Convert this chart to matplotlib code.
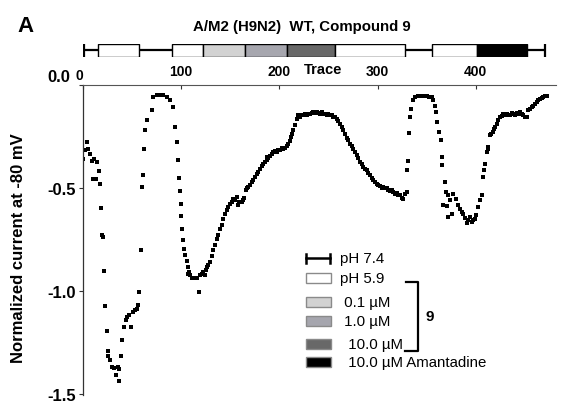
import matplotlib
matplotlib.use("Agg")
import matplotlib.pyplot as plt
from matplotlib.patches import Rectangle
from matplotlib.transforms import ScaledTranslation

plt.rcParams['font.family'] = ['Liberation Sans', 'DejaVu Sans']

# trace number and normalized current
trace = [0.8, 2.5, 4.9, 5.9, 7.6, 10.0, 12.0, 14.4, 17.1, 13.7, 11.0, 17.8, 18.8, 20.1, 21.2, 21.9,
         23.2, 24.6, 26.2, 25.9, 28.0, 29.7, 32.0, 33.8, 36.8, 36.4, 37.1, 38.8, 40.5, 42.2, 43.9, 45.6,
         47.3, 49.3, 51.7, 53.4, 55.1, 56.7, 57.8, 59.2, 60.8, 61.8, 62.5, 63.6, 65.9, 70.4, 72.0, 75.5,
         78.8, 82.2, 85.6, 89.0, 91.7, 94.1, 95.8, 96.8, 98.1, 99.2, 99.9, 100.5, 101.5, 102.5, 103.5,
         104.5, 106.0, 107.0, 107.6, 108.3, 109.3, 111.1, 112.7, 114.4, 116.1, 118.5, 119.5, 121.2,
         122.9, 124.6, 125.3, 126.3, 127.9, 129.7, 131.4, 133.0, 134.8, 136.5, 138.1, 139.8, 141.6,
         143.2, 144.9, 146.6, 148.3, 150.0, 151.7, 153.4, 155.1, 156.8, 158.1, 159.5, 161.9, 163.5,
         164.2, 166.0, 167.3, 168.6, 170.3, 172.1, 173.7, 175.4, 177.2, 178.8, 180.5, 182.2, 183.9,
         185.6, 187.3, 187.3, 189.0, 190.7, 192.4, 194.0, 195.8, 197.5, 199.1, 200.9, 202.6, 204.2,
         205.9, 207.7, 209.3, 210.5, 211.7, 213.1, 214.4, 216.1, 217.8, 219.5, 221.2, 222.9, 224.6,
         226.3, 228.0, 229.6, 231.4, 233.1, 234.7, 236.4, 238.2, 239.8, 241.5, 243.3, 244.9, 246.6,
         248.4, 250.0, 251.7, 253.4, 255.1, 256.8, 258.5, 260.1, 261.9, 263.6, 265.2, 267.0, 268.5,
         270.0, 272.0, 273.8, 275.4, 277.1, 278.9, 280.5, 282.2, 283.9, 285.6, 287.3, 289.0, 290.7,
         292.4, 294.1, 295.7, 297.5, 299.2, 300.8, 302.6, 304.3, 305.9, 307.6, 309.4, 311.0, 312.7,
         314.5, 316.1, 317.8, 319.5, 321.2, 322.9, 324.6, 326.3, 328.0, 329.7, 330.3, 331.3, 332.4,
         333.1, 334.1, 335.8, 338.2, 340.7, 343.2, 345.8, 347.8, 350.1, 352.4, 355.1, 356.8, 358.0,
         359.5, 360.8, 362.9, 364.3, 365.3, 365.9, 368.7, 369.7, 366.9, 370.4, 372.0, 373.7, 372.0,
         375.5, 377.1, 379.9, 382.2, 383.9, 385.6, 387.3, 389.0, 390.7, 392.4, 394.1, 395.8, 397.4,
         399.2, 400.2, 402.5, 404.3, 406.0, 407.6, 408.5, 409.3, 411.1, 411.9, 412.7, 414.4, 415.8,
         417.2, 418.5, 419.5, 421.2, 422.9, 424.6, 426.3, 428.0, 429.7, 431.4, 433.0, 434.8, 436.5,
         438.2, 439.9, 441.6, 443.2, 444.9, 446.7, 448.3, 450.0, 451.8, 453.4, 455.1, 456.8, 458.5,
         460.2, 461.9, 463.6, 465.3, 467.0, 468.6, 470.3, 471.9]
current = [-0.357, -0.317, -0.276, -0.308, -0.333, -0.368, -0.357, -0.373, -0.418, -0.454, -0.454,
           -0.478, -0.595, -0.729, -0.740, -0.905, -1.075, -1.195, -1.289, -1.318, -1.337, -1.371,
           -1.376, -1.409, -1.438, -1.371, -1.381, -1.318, -1.239, -1.177, -1.142, -1.125, -1.117,
           -1.174, -1.101, -1.093, -1.085, -1.069, -1.004, -0.802, -0.494, -0.438, -0.308, -0.219,
           -0.171, -0.122, -0.057, -0.050, -0.050, -0.050, -0.057, -0.074, -0.106, -0.203, -0.276,
           -0.365, -0.450, -0.516, -0.575, -0.635, -0.697, -0.753, -0.794, -0.826, -0.855, -0.883,
           -0.915, -0.907, -0.923, -0.936, -0.939, -0.939, -0.936, -1.004, -0.923, -0.915, -0.907,
           -0.923, -0.899, -0.883, -0.875, -0.857, -0.828, -0.803, -0.778, -0.745, -0.729, -0.701,
           -0.681, -0.648, -0.624, -0.608, -0.590, -0.575, -0.570, -0.554, -0.559, -0.543, -0.583,
           -0.570, -0.567, -0.559, -0.548, -0.511, -0.498, -0.494, -0.483, -0.470, -0.459, -0.446,
           -0.434, -0.421, -0.405, -0.392, -0.381, -0.373, -0.365, -0.349, -0.353, -0.342, -0.333,
           -0.324, -0.321, -0.325, -0.317, -0.317, -0.306, -0.311, -0.305, -0.294, -0.284, -0.269,
           -0.251, -0.235, -0.219, -0.192, -0.163, -0.147, -0.155, -0.143, -0.147, -0.141, -0.146,
           -0.138, -0.138, -0.136, -0.131, -0.136, -0.131, -0.133, -0.138, -0.131, -0.138, -0.138,
           -0.146, -0.141, -0.147, -0.147, -0.153, -0.155, -0.163, -0.175, -0.187, -0.201, -0.219,
           -0.235, -0.255, -0.265, -0.284, -0.296, -0.308, -0.325, -0.341, -0.354, -0.373, -0.383,
           -0.397, -0.405, -0.414, -0.427, -0.438, -0.449, -0.462, -0.471, -0.478, -0.483, -0.489,
           -0.498, -0.493, -0.502, -0.500, -0.510, -0.516, -0.510, -0.519, -0.527, -0.522, -0.534,
           -0.535, -0.546, -0.551, -0.527, -0.518, -0.414, -0.368, -0.232, -0.154, -0.114, -0.074,
           -0.057, -0.053, -0.052, -0.053, -0.054, -0.054, -0.056, -0.057, -0.074, -0.100, -0.130,
           -0.179, -0.227, -0.265, -0.349, -0.389, -0.470, -0.518, -0.583, -0.588, -0.535, -0.559,
           -0.640, -0.627, -0.527, -0.551, -0.583, -0.604, -0.614, -0.624, -0.643, -0.672, -0.656,
           -0.640, -0.663, -0.656, -0.648, -0.632, -0.591, -0.559, -0.535, -0.446, -0.410, -0.381,
           -0.324, -0.308, -0.300, -0.244, -0.235, -0.227, -0.214, -0.203, -0.187, -0.170, -0.154,
           -0.150, -0.142, -0.146, -0.138, -0.147, -0.147, -0.136, -0.138, -0.143, -0.135, -0.141,
           -0.130, -0.138, -0.147, -0.155, -0.154, -0.122, -0.114, -0.106, -0.100, -0.090, -0.083,
           -0.074, -0.068, -0.061, -0.057, -0.054, -0.051]

# application protocol (trace units)
bar_start = [15.8, 91.0, 122.5, 165.2, 207.9, 256.8, 355.4, 401.2]
bar_end = [57.1, 122.5, 165.2, 207.9, 256.8, 327.6, 401.2, 452.0]
bar_colors = ['white', 'white', '#d2d2d2', '#a6a6ae', '#686868', 'white', 'white', 'black']
protocol_span = [1.5, 470.4]

legend_labels = ['pH 5.9', ' 0.1 µM', ' 1.0 µM', '  10.0 µM', '  10.0 µM Amantadine']
legend_colors = ['white', '#d2d2d2', '#a6a6ae', '#686868', 'black']

xticks = [0, 100, 200, 300, 400]
yticks = [0.0, -0.5, -1.0, -1.5]
ytick_labels = ['0.0', '-0.5', '-1.0', '-1.5']

W, H = 561, 406
fig = plt.figure(figsize=(W / 100, H / 100), dpi=100)


def fr(x0, y0, x1, y1):
    # pixel box -> figure fraction rect
    return [x0 / W, 1 - y1 / H, (x1 - x0) / W, (y1 - y0) / H]


xlim = (0, 481.5)

# main scatter
ax = fig.add_axes(fr(82.5, 85.5, 556, 396))
ax.plot(trace, current, 's', color='black', ms=2.4, mew=0)
ax.set_xlim(*xlim)
ax.set_ylim(-1.505, 0.003)
ax.spines['bottom'].set_visible(False)
ax.spines['right'].set_visible(False)
ax.spines['top'].set_color('#555555')
ax.spines['top'].set_linewidth(0.8)
ax.spines['left'].set_color('#333333')
ax.spines['left'].set_linewidth(0.9)
ax.xaxis.tick_top()
ax.set_xticks(xticks)
ax.set_xticklabels([str(t) for t in xticks], fontsize=10, fontweight='bold')
ax.tick_params(axis='x', direction='in', length=3, pad=5, colors='#333333', labelcolor='black')
ax.set_yticks(yticks)
ax.set_yticklabels(ytick_labels, fontsize=12, fontweight='bold')
ax.tick_params(axis='y', direction='out', length=3, pad=2, colors='#333333', labelcolor='black')
# the 0.0 / 0 labels sit a little off their ticks in the original
lab0 = ax.get_yticklabels()[0]
lab0.set_transform(lab0.get_transform() + ScaledTranslation(-4 / 72, 7 / 72, fig.dpi_scale_trans))
labx0 = ax.get_xticklabels()[0]
labx0.set_transform(labx0.get_transform() + ScaledTranslation(-2 / 72, -3 / 72, fig.dpi_scale_trans))
ax.set_ylabel('Normalized current at -80 mV', fontsize=12, fontweight='bold')
ax.yaxis.set_label_coords(-0.12, 0.475)

# protocol bar above the plot
axb = fig.add_axes(fr(82.5, 44.6, 556, 58.2))
axb.set_xlim(*xlim)
axb.set_ylim(0, 1)
axb.axis('off')
axb.plot(protocol_span, [0.5, 0.5], color='black', lw=1.6, solid_capstyle='butt')
for xc in protocol_span:
    axb.plot([xc, xc], [0.08, 0.92], color='black', lw=1.6)
for s, e, c in zip(bar_start, bar_end, bar_colors):
    axb.add_patch(Rectangle((s, 0), e - s, 1, facecolor=c, edgecolor='black', lw=1.0, zorder=3))

# overlay in pixel coordinates for labels and the legend
ov = fig.add_axes([0, 0, 1, 1], facecolor='none')
ov.set_xlim(0, W)
ov.set_ylim(H, 0)
ov.axis('off')

ov.text(26, 26, 'A', fontsize=16, fontweight='bold', ha='center', va='center')
ov.text(302, 27, 'A/M2 (H9N2)  WT, Compound 9', fontsize=10.8, fontweight='bold',
        ha='center', va='center')
ov.text(323, 70, 'Trace', fontsize=10.5, fontweight='bold', ha='center', va='center')

# legend
ov.plot([306, 330], [259, 259], color='black', lw=1.8)
for xc in (306, 330):
    ov.plot([xc, xc], [254.5, 263.5], color='black', lw=1.8)
ov.text(340.5, 259, 'pH 7.4', fontsize=10.8, va='center')
rows = [279.3, 303.3, 321.7, 345, 363.3]
for yc, lab, c in zip(rows, legend_labels, legend_colors):
    ov.add_patch(Rectangle((306, yc - 5), 25, 10, facecolor=c, edgecolor='#8a8a8a', lw=1.0))
    ov.text(340.5, yc, lab, fontsize=10.8, va='center')
ov.plot([406, 417.7, 417.7, 405], [282.7, 282.7, 351.7, 351.7], color='black', lw=1.6)
ov.text(430, 317, '9', fontsize=11, fontweight='bold', ha='center', va='center')

fig.savefig('out.png', dpi=100)
